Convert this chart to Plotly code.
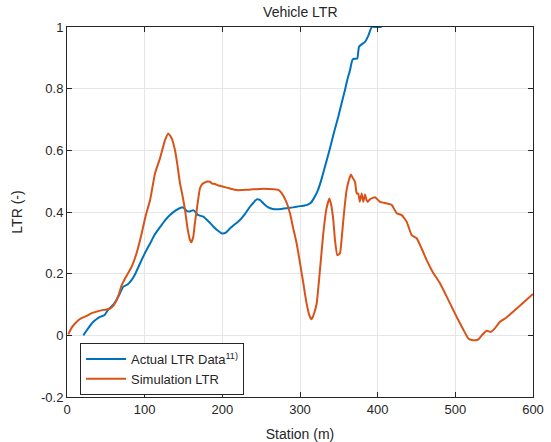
import plotly.graph_objects as go

actual_x = [21, 27, 33.9, 42.5, 48, 53.2, 60, 66, 72.5, 78, 83.3, 88, 94, 100, 107, 113, 120, 126, 132.6,
            140, 147.7, 151, 154, 158, 162.6, 169, 175.5, 182, 188, 194, 200, 205, 210, 216, 222.7, 229,
            235.6, 240, 244.2, 248.5, 254, 259.2, 265, 270, 276, 282.9, 291, 300, 306, 310, 314,
            318, 323, 328, 333, 338.6, 344, 349.3, 354, 357.9, 361, 364.4, 366, 367.8, 370, 373.8,
            375, 376, 380, 383.7, 388, 392.3, 398, 405]
actual_y = [0.0, 0.022, 0.044, 0.06, 0.065, 0.084, 0.1, 0.125, 0.158, 0.165, 0.18, 0.2, 0.233, 0.265,
            0.298, 0.327, 0.352, 0.372, 0.39, 0.405, 0.415, 0.412, 0.404, 0.402, 0.406, 0.39, 0.385,
            0.37, 0.354, 0.34, 0.33, 0.334, 0.347, 0.36, 0.374, 0.393, 0.417, 0.43, 0.441, 0.439, 0.425,
            0.415, 0.41, 0.409, 0.41, 0.412, 0.415, 0.419, 0.421, 0.424, 0.43, 0.445, 0.47, 0.509, 0.555,
            0.607, 0.66, 0.709, 0.757, 0.796, 0.83, 0.86, 0.88, 0.895, 0.897, 0.898, 0.92, 0.936, 0.945,
            0.952, 0.972, 1.0, 1.0, 1.0]

sim_x = [1.7, 6, 12.5, 18, 25.4, 31, 38.2, 44, 51, 55.4, 60, 64, 67, 70.4, 76, 83.3, 90, 96.2, 101,
         107, 113.3, 119.7, 126.2, 130.4, 134.8, 139, 142, 145.5, 149, 152, 155, 158.4, 160, 162.6,
         164.5, 167, 171.2, 174, 177.7, 181, 184.1, 187, 190.6, 195, 201.3, 210, 218.5, 230, 248.5,
         265.6, 272, 276.4, 282, 287.1, 291, 295.7, 300, 304.3, 308, 312, 315, 318, 321.5, 326, 330,
         334, 337.8, 340, 342.9, 345, 348, 351.5, 353.5, 355.8, 358, 360, 362.5, 365.6, 368, 370.8,
         373, 375, 377, 379.4, 381.5, 383.7, 385.5, 387, 390, 393, 396.6, 403, 411.6, 418, 424.5,
         431, 437.4, 443.8, 450.2, 456, 463.1, 471, 480.2, 490, 501.7, 510, 516.7, 521, 526, 529.6,
         534, 540.4, 545.5, 550, 557.5, 566, 574.7, 587, 600]
sim_y = [0.003, 0.025, 0.044, 0.055, 0.063, 0.071, 0.077, 0.081, 0.084, 0.087, 0.097, 0.115, 0.135,
         0.163, 0.19, 0.223, 0.27, 0.331, 0.385, 0.439, 0.525, 0.574, 0.633, 0.655, 0.639, 0.601,
         0.555, 0.493, 0.45, 0.406, 0.35, 0.309, 0.302, 0.32, 0.36, 0.406, 0.477, 0.49, 0.496, 0.499,
         0.498, 0.492, 0.491, 0.486, 0.482, 0.476, 0.471, 0.472, 0.475, 0.474, 0.472, 0.461, 0.435,
         0.396, 0.35, 0.298, 0.235, 0.169, 0.11, 0.065, 0.052, 0.07, 0.104, 0.22, 0.331, 0.41, 0.444,
         0.425, 0.374, 0.31, 0.26, 0.266, 0.31, 0.374, 0.43, 0.471, 0.5, 0.522, 0.51, 0.498, 0.46,
         0.46, 0.433, 0.46, 0.433, 0.457, 0.44, 0.433, 0.441, 0.445, 0.448, 0.433, 0.428, 0.423,
         0.396, 0.39, 0.368, 0.325, 0.315, 0.285, 0.244, 0.205, 0.169, 0.12, 0.06, 0.02, -0.01,
         -0.015, -0.016, -0.013, 0.0, 0.015, 0.011, 0.02, 0.044, 0.058, 0.077, 0.105, 0.134]

x_ticks = [0, 100, 200, 300, 400, 500, 600]
y_ticks = [-0.2, 0, 0.2, 0.4, 0.6, 0.8, 1]
y_tick_text = ["-0.2", "0", "0.2", "0.4", "0.6", "0.8", "1"]

font = "Liberation Sans, Arial, sans-serif"
fig = go.Figure()
fig.add_trace(go.Scatter(x=actual_x, y=actual_y, mode="lines", name="Actual LTR Data<sup>11)</sup>",
                         line=dict(color="#0072BD", width=2, shape="spline", smoothing=0.4)))
fig.add_trace(go.Scatter(x=sim_x, y=sim_y, mode="lines", name="Simulation LTR",
                         line=dict(color="#D95319", width=2, shape="spline", smoothing=0.4)))

axis_common = dict(showline=True, linecolor="#262626", linewidth=1, mirror="ticks", ticks="inside",
                   ticklen=5, tickcolor="#262626", showgrid=True, gridcolor="#E6E6E6", gridwidth=1,
                   zeroline=False, automargin=False, tickfont=dict(size=13, color="#262626", family=font))
fig.update_xaxes(range=[0, 600], tickvals=x_ticks,
                 title=dict(text="Station (m)", font=dict(size=14, color="#262626", family=font)),
                 **axis_common)
fig.update_yaxes(range=[-0.2, 1], tickvals=y_ticks, ticktext=y_tick_text,
                 title=dict(text="LTR (-)", font=dict(size=14, color="#262626", family=font)),
                 **axis_common)

fig.update_layout(
    width=551, height=442,
    margin=dict(l=67, r=18, t=27, b=45),
    paper_bgcolor="white", plot_bgcolor="white",
    title=dict(text="Vehicle LTR", x=0.545, xanchor="center", y=0.972, yanchor="middle",
               font=dict(size=14, color="#262626", family=font)),
    font=dict(family=font, color="#262626"),
    legend=dict(x=0.028, y=0.146, xanchor="left", yanchor="top", bgcolor="white",
                bordercolor="#262626", borderwidth=1, font=dict(size=13, color="#262626", family=font),
                tracegroupgap=0, itemwidth=40),
    showlegend=True,
)
fig.write_html("out.html")
